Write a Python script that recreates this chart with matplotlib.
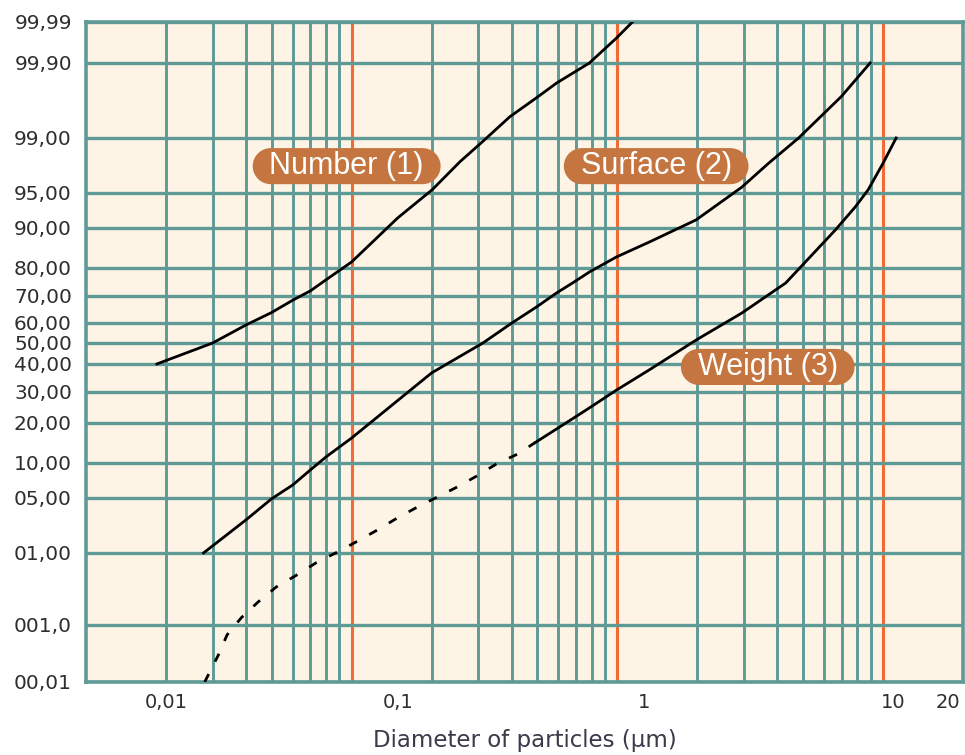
import numpy as np
import matplotlib
matplotlib.use('Agg')
import matplotlib.pyplot as plt
from matplotlib.path import Path
from statistics import NormalDist

# cumulative percent vs particle diameter (um)
number_x = [0.0185, 0.03, 0.04, 0.05, 0.06, 0.07, 0.08, 0.1, 0.149, 0.201, 0.256, 0.31,
            0.394, 0.497, 0.591, 0.785, 0.991, 1.14]
number_y = [40, 50, 59, 64, 68.5, 72, 76, 81.8, 91.7, 95.4, 97.9, 98.86,
            99.45, 99.69, 99.805, 99.9, 99.974, 99.99]

surface_x = [0.0277, 0.04, 0.05, 0.06, 0.07, 0.08, 0.1, 0.2, 0.235, 0.312, 0.401, 0.497, 0.591,
             0.678, 0.785, 0.991, 1.318, 1.98, 2.94, 3.71, 4.81, 6.96, 8.94]
surface_y = [1, 2.76, 4.9, 6.55, 8.8, 11.2, 15.7, 36.7, 40.9, 50, 60, 66.1, 71.2,
             74.9, 78.7, 83.2, 87, 91.4, 95.7, 97.8, 99, 99.7, 99.9]

weight_dash_x = [0.028, 0.0315, 0.034, 0.0385, 0.0444, 0.052, 0.062, 0.0733, 0.087, 0.104,
                 0.125, 0.148, 0.177, 0.21, 0.25, 0.295, 0.35, 0.42, 0.49]
weight_dash_y = [0.01, 0.031, 0.069, 0.13, 0.22, 0.36, 0.52, 0.75, 1.0, 1.43,
                 2.06, 2.9, 3.95, 5.1, 6.3, 7.8, 9.8, 11.8, 14.5]
weight_x = [0.49, 0.607, 0.785, 0.991, 1.318, 1.98, 2.94, 4.30, 6.61, 7.85, 8.79, 10.0, 11.2]
weight_y = [14.5, 18.8, 24.6, 30.6, 37.8, 51.5, 63.8, 74.9, 89.6, 93.3, 95.4, 97.8, 99]

yticks = [0.01, 0.1, 1, 5, 10, 20, 30, 40, 50, 60, 70, 80, 90, 95, 99, 99.9, 99.99]
ylabels = ['00,01', '001,0', '01,00', '05,00', '10,00', '20,00', '30,00', '40,00', '50,00',
           '60,00', '70,00', '80,00', '90,00', '95,00', '99,00', '99,90', '99,99']
xtick_pos = [0.02, 0.149, 1.26, 10.9, 17.5]
xlabels = ['0,01', '0,1', '1', '10', '20']

# spacing of the printed probability paper (height of each ruling above the bottom)
paper_ruling = [0, 57, 129, 184, 219, 259, 290, 318, 339, 359, 386, 414, 454, 489, 544, 619, 660]

teal = '#5f9a97'
orange = '#f26a35'
pill_col = '#c57640'

nd = NormalDist()
z_rul = np.array([nd.inv_cdf(p / 100.0) for p in yticks])
h_rul = np.array(paper_ruling, dtype=float)


def _one_ppf(p):
    if not np.isfinite(p):
        return np.nan
    return nd.inv_cdf(min(max(p / 100.0, 1e-12), 1 - 1e-12))


def _one_cdf(z):
    if not np.isfinite(z):
        return np.nan
    return nd.cdf(z) * 100.0


_ppf = np.vectorize(_one_ppf, otypes=[float])
_cdf = np.vectorize(_one_cdf, otypes=[float])


def _lin(v, xs, ys):
    out = np.interp(v, xs, ys)
    lo = v < xs[0]
    hi = v > xs[-1]
    out = np.where(lo, ys[0] + (v - xs[0]) * (ys[1] - ys[0]) / (xs[1] - xs[0]), out)
    out = np.where(hi, ys[-1] + (v - xs[-1]) * (ys[-1] - ys[-2]) / (xs[-1] - xs[-2]), out)
    return out


def fwd(p):
    return _lin(_ppf(np.asarray(p, dtype=float)), z_rul, h_rul)


def inv(h):
    return _cdf(_lin(np.asarray(h, dtype=float), h_rul, z_rul))


def pill(x0, y0, width, height, mutation_size):
    padx = 0.55 * mutation_size
    pady = 0.1 * mutation_size
    x0, y0 = x0 - padx, y0 - pady
    width, height = width + 2 * padx, height + 2 * pady
    r = height / 2
    t1 = np.linspace(np.pi / 2, 3 * np.pi / 2, 20)
    t2 = np.linspace(-np.pi / 2, np.pi / 2, 20)
    left = np.column_stack([x0 + r + r * np.cos(t1), y0 + r + r * np.sin(t1)])
    right = np.column_stack([x0 + width - r + r * np.cos(t2), y0 + r + r * np.sin(t2)])
    verts = np.vstack([left, right, left[:1]])
    return Path(verts, closed=True)


fig = plt.figure(figsize=(9.65, 7.55), dpi=100)
ax = fig.add_axes([0.089, 0.0967, 0.909, 0.8742])
ax.set_facecolor('#fdf4e5')

ax.set_xscale('log')
ax.set_yscale('function', functions=(fwd, inv))
ax.set_xlim(0.01, 20)
ax.set_ylim(0.01, 99.99)

# grid
ax.xaxis.remove_overlapping_locs = False
minor_x = [m * d for d in (0.01, 0.1, 1) for m in range(2, 10)]
ax.set_xticks(minor_x, minor=True)
ax.set_xticks(xtick_pos, xlabels)
ax.set_yticks(yticks, ylabels)
ax.yaxis.set_minor_locator(matplotlib.ticker.NullLocator())
ax.xaxis.set_minor_formatter(matplotlib.ticker.NullFormatter())
ax.grid(which='minor', axis='x', color=teal, lw=2.1)
ax.grid(which='major', axis='y', color=teal, lw=2.4)
ax.grid(which='major', axis='x', visible=False)
for d in (0.1, 1, 10):
    ax.axvline(d, color=orange, lw=2.2, zorder=1.5)

for s in ax.spines.values():
    s.set_color(teal)
    s.set_linewidth(2.6)

ax.tick_params(which='both', length=0)
ax.tick_params(axis='y', pad=10, labelsize=14.5, labelcolor='#2e2e2e')
ax.tick_params(axis='x', pad=8, labelsize=14, labelcolor='#2e2e2e')

ax.plot(number_x, number_y, color='black', lw=2.0, zorder=3)
ax.plot(surface_x, surface_y, color='black', lw=2.0, zorder=3)
ax.plot(weight_x, weight_y, color='black', lw=2.0, zorder=3)
ax.plot(weight_dash_x, weight_dash_y, color='black', lw=2.0, dashes=(3.2, 5), zorder=3)

box = dict(boxstyle=pill, fc=pill_col, ec='none')
lab = dict(color='white', fontsize=22, ha='center', va='center', bbox=box, zorder=4,
           family=['Liberation Sans', 'DejaVu Sans'])
ax.text(0.0958, 97.6, 'Number (1)', **lab)
ax.text(1.40, 97.6, 'Surface (2)', **lab)
ax.text(3.68, 38.9, 'Weight (3)', **lab)

ax.set_xlabel('Diameter of particles (µm)', fontsize=16.5, color='#3a3a4a', labelpad=12)

fig.savefig('out.png', dpi=100)
